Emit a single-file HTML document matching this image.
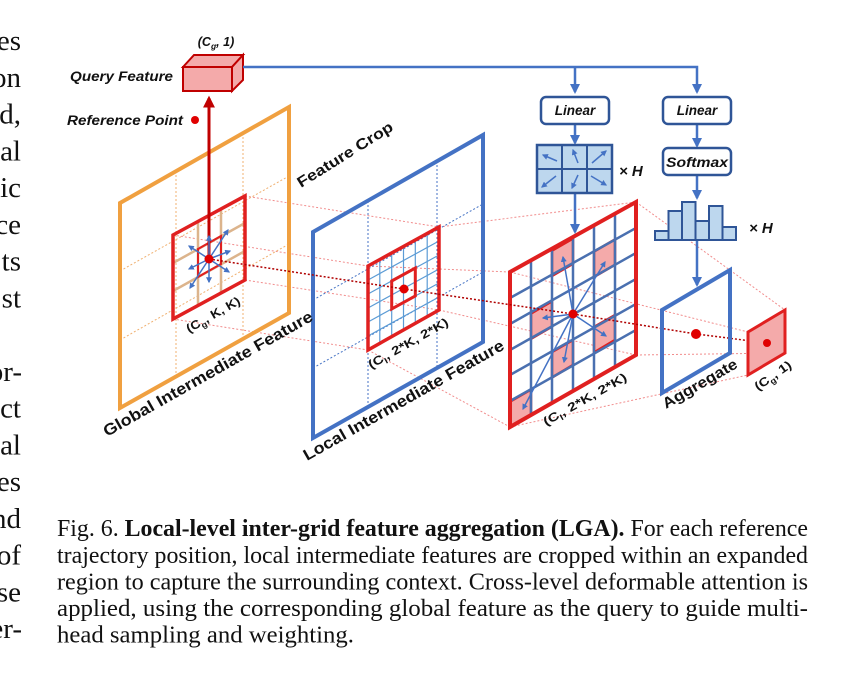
<!DOCTYPE html>
<html><head><meta charset="utf-8"><style>
html,body{margin:0;padding:0;background:#fff;width:864px;height:683px;overflow:hidden}
svg{display:block}
.d{font-family:"Liberation Sans",sans-serif;font-weight:bold;fill:#111}
.s{font-family:"Liberation Serif",serif;fill:#111}
</style></head><body>
<svg width="864" height="683" viewBox="0 0 864 683" xmlns="http://www.w3.org/2000/svg">
<defs>
<marker id="ab" viewBox="0 0 10 10" refX="8" refY="5" markerWidth="4" markerHeight="4" orient="auto"><path d="M0,0 L10,5 L0,10 z" fill="#4472c4"/></marker>
<marker id="ar" viewBox="0 0 10 10" refX="8" refY="5" markerWidth="4" markerHeight="4" orient="auto"><path d="M0,0 L10,5 L0,10 z" fill="#c00000"/></marker>
</defs>

<g class="s" font-size="29" text-anchor="end">
<text x="21" y="50">es</text><text x="21" y="86.75">on</text><text x="21" y="123.5">d,</text><text x="21" y="160.25">al</text>
<text x="21" y="197">ic</text><text x="21" y="233.75">ce</text><text x="21" y="270.5">ts</text><text x="21" y="307.25">st</text>
<text x="22" y="380.75">or-</text><text x="21" y="417.5">ct</text><text x="21" y="454.25">al</text><text x="21" y="491">es</text>
<text x="21" y="527.75">nd</text><text x="21" y="564.5">of</text><text x="21" y="601.25">se</text><text x="22" y="638">er-</text>
</g>

<g class="s" font-size="24">
<text x="57" y="536" textLength="751" lengthAdjust="spacingAndGlyphs">Fig. 6.  <tspan font-weight="bold">Local-level inter-grid feature aggregation (LGA).</tspan> For each reference</text>
<text x="57" y="563" textLength="751" lengthAdjust="spacingAndGlyphs">trajectory position, local intermediate features are cropped within an expanded</text>
<text x="57" y="589.5" textLength="751" lengthAdjust="spacingAndGlyphs">region to capture the surrounding context. Cross-level deformable attention is</text>
<text x="57" y="616" textLength="751" lengthAdjust="spacingAndGlyphs">applied, using the corresponding global feature as the query to guide multi-</text>
<text x="57" y="642.5" textLength="297" lengthAdjust="spacingAndGlyphs">head sampling and weighting.</text>
</g>

<g stroke="#f08080" stroke-width="1" stroke-dasharray="2,2" fill="none" opacity="0.9">
<line x1="173" y1="235" x2="368" y2="266"/><line x1="245" y1="196" x2="439" y2="227"/>
<line x1="245" y1="280" x2="439" y2="310"/><line x1="173" y1="319" x2="368" y2="350"/>
<line x1="368" y1="266" x2="510" y2="272"/><line x1="439" y1="227" x2="636" y2="202"/>
<line x1="439" y1="310" x2="636" y2="355"/><line x1="368" y1="350" x2="510" y2="427"/>
<line x1="636" y1="202" x2="785" y2="310"/><line x1="510" y1="272" x2="748" y2="332"/>
<line x1="636" y1="355" x2="785" y2="353"/><line x1="510" y1="427" x2="748" y2="375"/>
</g>

<g stroke="#f0b070" stroke-width="1" stroke-dasharray="2,2" fill="none">
<line x1="176" y1="171" x2="176" y2="377"/><line x1="243" y1="133" x2="243" y2="339"/>
<line x1="120" y1="271" x2="289" y2="176"/><line x1="120" y1="340" x2="289" y2="244"/>
</g>
<polygon points="120,203 289,107 289,313 120,408" fill="none" stroke="#f0a040" stroke-width="4"/>
<g stroke="#dcb48c" stroke-width="2.5">
<line x1="198" y1="221" x2="198" y2="305"/><line x1="221" y1="208" x2="221" y2="292"/>
<line x1="173" y1="263" x2="245" y2="223"/><line x1="173" y1="291" x2="245" y2="251"/>
</g>
<polygon points="198,249 221,236 221,264 198,277" fill="none" stroke="#e02020" stroke-width="2"/>
<polygon points="173,235 245,196 245,280 173,319" fill="none" stroke="#e02020" stroke-width="3.5"/>
<line x1="209" y1="258" x2="209" y2="98" stroke="#c00000" stroke-width="3" marker-end="url(#ar)"/>
<g stroke="#4472c4" stroke-width="1.5" marker-end="url(#ab)">
<line x1="209" y1="259" x2="209" y2="236"/><line x1="209" y1="259" x2="209" y2="282"/>
<line x1="209" y1="259" x2="228" y2="230"/><line x1="209" y1="259" x2="190" y2="288"/>
<line x1="209" y1="259" x2="230" y2="251"/><line x1="209" y1="259" x2="189" y2="246"/>
<line x1="209" y1="259" x2="229" y2="272"/><line x1="209" y1="259" x2="189" y2="269"/>
</g>

<g stroke="#4472c4" stroke-width="1" stroke-dasharray="2,2" fill="none">
<line x1="368" y1="201" x2="368" y2="406"/><line x1="437" y1="161" x2="437" y2="367"/>
<line x1="313" y1="300" x2="483" y2="204"/><line x1="313" y1="368" x2="483" y2="272"/>
</g>
<polygon points="313,232 483,135 483,342 313,438" fill="none" stroke="#4472c4" stroke-width="4"/>
<g stroke="#5b9bd5" stroke-width="1.2">
<line x1="379.8" y1="259.5" x2="379.8" y2="343.5"/><line x1="391.7" y1="253" x2="391.7" y2="337"/>
<line x1="403.5" y1="246.5" x2="403.5" y2="330.5"/><line x1="415.3" y1="240" x2="415.3" y2="324"/>
<line x1="427.2" y1="233.5" x2="427.2" y2="317.5"/>
<line x1="368" y1="280" x2="439" y2="241"/><line x1="368" y1="294" x2="439" y2="255"/>
<line x1="368" y1="308" x2="439" y2="269"/><line x1="368" y1="322" x2="439" y2="283"/>
<line x1="368" y1="336" x2="439" y2="297"/>
</g>
<polygon points="391.7,281 415.3,268 415.3,296 391.7,309" fill="none" stroke="#e02020" stroke-width="3"/>
<polygon points="368,266 439,227 439,310 368,350" fill="none" stroke="#e02020" stroke-width="3.5"/>

<g fill="#f4aaaa" stroke="#e02020" stroke-width="2.5">
<polygon points="552,250.7 573,238.5 573,263.8 552,276"/>
<polygon points="594,251.6 615,239.4 615,264.8 594,277"/>
<polygon points="531,313.5 552,301.3 552,326.6 531,338.8"/>
<polygon points="594,327 615,315 615,340 594,352.5"/>
<polygon points="552,352 573,340 573,365 552,377.5"/>
<polygon points="510,401.7 531,389.5 531,414.8 510,427"/>
</g>
<g stroke="#4a70b0" stroke-width="2.5">
<line x1="531" y1="260.5" x2="531" y2="414.5"/><line x1="552" y1="248.5" x2="552" y2="402.5"/>
<line x1="573" y1="237" x2="573" y2="391"/><line x1="594" y1="225" x2="594" y2="379"/>
<line x1="615" y1="214" x2="615" y2="368"/>
<line x1="510" y1="298" x2="636" y2="228"/><line x1="510" y1="324" x2="636" y2="253"/>
<line x1="510" y1="350" x2="636" y2="279"/><line x1="510" y1="375" x2="636" y2="304"/>
<line x1="510" y1="401" x2="636" y2="330"/>
</g>
<polygon points="510,272 636,202 636,355 510,427" fill="none" stroke="#e02020" stroke-width="4"/>
<g stroke="#4472c4" stroke-width="1.5" marker-end="url(#ab)">
<line x1="573" y1="314" x2="563" y2="257"/><line x1="573" y1="314" x2="605" y2="262"/>
<line x1="573" y1="314" x2="543" y2="318"/><line x1="573" y1="314" x2="606" y2="336"/>
<line x1="573" y1="314" x2="564" y2="362"/><line x1="573" y1="314" x2="523" y2="409"/>
</g>

<polyline points="209,259 404,289 573,314 696,334 767,343" fill="none" stroke="#b00000" stroke-width="1.5" stroke-dasharray="2,2"/>

<polygon points="662,310 730,270 730,353 662,393" fill="none" stroke="#4472c4" stroke-width="4"/>
<polygon points="748,332 785,310 785,353 748,375" fill="#f4aaaa" stroke="#e02020" stroke-width="3"/>

<g fill="#e00000">
<circle cx="209" cy="259" r="4.5"/><circle cx="404" cy="289" r="4.5"/><circle cx="573" cy="314" r="4.5"/>
<circle cx="696" cy="334" r="5"/><circle cx="767" cy="343" r="4"/><circle cx="195" cy="120" r="4"/>
</g>

<polygon points="183,67 194,55 243,55 232,67" fill="#f4aaaa" stroke="#c00000" stroke-width="2"/>
<polygon points="232,67 243,55 243,80 232,91" fill="#f4aaaa" stroke="#c00000" stroke-width="2"/>
<rect x="183" y="67" width="49" height="24" fill="#f4aaaa" stroke="#c00000" stroke-width="2"/>

<g stroke="#4472c4" stroke-width="2.5" fill="none">
<polyline points="243,67 697,67 697,92" marker-end="url(#ab)"/>
<line x1="575" y1="67" x2="575" y2="92" marker-end="url(#ab)"/>
<line x1="575" y1="124" x2="575" y2="143" marker-end="url(#ab)"/>
<line x1="575" y1="193" x2="575" y2="232" marker-end="url(#ab)"/>
<line x1="697" y1="124" x2="697" y2="146" marker-end="url(#ab)"/>
<line x1="697" y1="175" x2="697" y2="198" marker-end="url(#ab)"/>
<line x1="697" y1="240" x2="697" y2="285" marker-end="url(#ab)"/>
</g>
<rect x="541" y="97" width="68" height="27" rx="5" fill="#fff" stroke="#2f5597" stroke-width="2.5"/>
<rect x="663" y="97" width="68" height="27" rx="5" fill="#fff" stroke="#2f5597" stroke-width="2.5"/>
<rect x="663" y="148" width="68" height="27" rx="5" fill="#fff" stroke="#2f5597" stroke-width="2.5"/>
<rect x="537" y="145" width="75" height="48" fill="#bdd7ee" stroke="#2f5597" stroke-width="2.5"/>
<g stroke="#2f5597" stroke-width="2"><line x1="562" y1="145" x2="562" y2="193"/><line x1="587" y1="145" x2="587" y2="193"/><line x1="537" y1="169" x2="612" y2="169"/></g>
<g stroke="#4472c4" stroke-width="1.5" marker-end="url(#ab)">
<line x1="557" y1="161" x2="543" y2="155"/><line x1="578" y1="163" x2="573" y2="150"/><line x1="592" y1="163" x2="606" y2="151"/>
<line x1="556" y1="176" x2="542" y2="187"/><line x1="578" y1="175" x2="572" y2="188"/><line x1="591" y1="176" x2="606" y2="185"/>
</g>
<g fill="#bdd7ee" stroke="#2f5597" stroke-width="2">
<rect x="655" y="231" width="13.5" height="9"/><rect x="668.5" y="211" width="13.5" height="29"/>
<rect x="682" y="202" width="13.5" height="38"/><rect x="695.5" y="221" width="13.5" height="19"/>
<rect x="709" y="206" width="13.5" height="34"/><rect x="722.5" y="227" width="13.5" height="13"/>
</g>

<g class="d" font-style="italic">
<text x="216" y="46" font-size="12.5" text-anchor="middle">(C<tspan font-size="8.5" dy="3">g</tspan><tspan dy="-3">, 1)</tspan></text>
<text x="70" y="81" font-size="13.5" textLength="103" lengthAdjust="spacingAndGlyphs">Query Feature</text>
<text x="67" y="125" font-size="13.5" textLength="116" lengthAdjust="spacingAndGlyphs">Reference Point</text>
<text x="575" y="115" font-size="13.5" text-anchor="middle">Linear</text>
<text x="697" y="115" font-size="13.5" text-anchor="middle">Linear</text>
<text x="697" y="167" font-size="13.5" text-anchor="middle" textLength="62" lengthAdjust="spacingAndGlyphs">Softmax</text>
<text x="619" y="176" font-size="15">× H</text>
<text x="749" y="233" font-size="15">× H</text>
</g>
<g class="d">
<text x="301" y="188" font-size="15" transform="rotate(-32 301 188)" textLength="110" lengthAdjust="spacingAndGlyphs">Feature Crop</text>
<text x="107" y="437" font-size="16" transform="rotate(-29.5 107 437)" textLength="238" lengthAdjust="spacingAndGlyphs">Global Intermediate Feature</text>
<text x="307" y="461" font-size="16" transform="rotate(-29.5 307 461)" textLength="228" lengthAdjust="spacingAndGlyphs">Local Intermediate Feature</text>
<text x="189" y="333" font-size="12" transform="rotate(-29.5 189 333)" textLength="60" lengthAdjust="spacingAndGlyphs">(C<tspan font-size="8" dy="3">g</tspan><tspan dy="-3">, K, K)</tspan></text>
<text x="371" y="369" font-size="12" transform="rotate(-29.5 371 369)" textLength="90" lengthAdjust="spacingAndGlyphs">(C<tspan font-size="8" dy="3">l</tspan><tspan dy="-3">, 2*K, 2*K)</tspan></text>
<text x="546" y="426" font-size="12" transform="rotate(-29.5 546 426)" textLength="94" lengthAdjust="spacingAndGlyphs">(C<tspan font-size="8" dy="3">l</tspan><tspan dy="-3">, 2*K, 2*K)</tspan></text>
<text x="666" y="409" font-size="15" transform="rotate(-30 666 409)" textLength="84" lengthAdjust="spacingAndGlyphs">Aggregate</text>
<text x="758" y="391" font-size="12" transform="rotate(-35 758 391)" textLength="42" lengthAdjust="spacingAndGlyphs">(C<tspan font-size="8" dy="3">g</tspan><tspan dy="-3">, 1)</tspan></text>
</g>
</svg>
</body></html>
